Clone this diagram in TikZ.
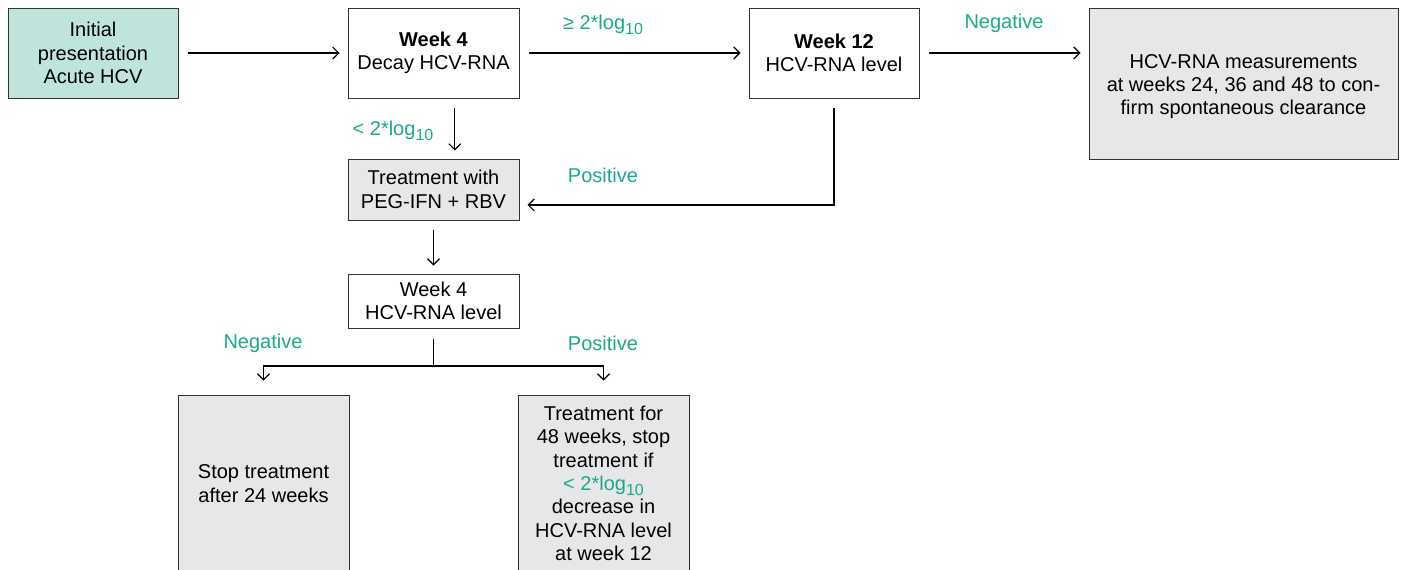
\documentclass[tikz,border=0pt]{standalone}
\usepackage{fontspec}
\setmainfont{Liberation Sans}
\usetikzlibrary{arrows.meta}
\definecolor{tealtxt}{HTML}{1AA98C}
\definecolor{tealfill}{HTML}{BFE4DB}
\definecolor{grayfill}{HTML}{E6E7E8}
\definecolor{edgec}{HTML}{333333}
\newcommand\lowten{\raisebox{-0.45ex}{\fontsize{12}{12}\selectfont 10}}
\begin{document}
\begin{tikzpicture}[x=0.75pt,y=-0.75pt,
  box/.style={draw=edgec, line width=0.75pt, align=center, inner sep=0pt, font=\fontsize{15}{17.5}\selectfont, text=black},
  conn/.style={draw=black, line width=0.85pt, -{Straight Barb[length=4.5pt,width=9pt]}, shorten <=6.75pt, shorten >=6pt},
  plainline/.style={draw=black, line width=0.85pt},
  lbl/.style={text=tealtxt, font=\fontsize{15}{17.5}\selectfont, inner sep=0pt}]
\useasboundingbox (0,0) rectangle (1407,569);

\node[box, fill=tealfill, minimum width=127.5pt, minimum height=67.5pt] (a) at (93,53) {Initial\\presentation\\Acute HCV};
\node[box, fill=white, minimum width=128.25pt, minimum height=67.5pt] (b) at (433.5,53) {\textbf{Week 4}\\Decay HCV-RNA};
\node[box, fill=white, minimum width=127.5pt, minimum height=67.5pt] (c) at (834,53) {\textbf{Week 12}\\HCV-RNA level};
\node[box, fill=grayfill, minimum width=231.75pt, minimum height=113.25pt] (d) at (1243.5,83.5) {\rule{0pt}{15pt}HCV-RNA measurements\\at weeks 24, 36 and 48 to con-\\firm spontaneous clearance};
\node[box, fill=grayfill, minimum width=128.25pt, minimum height=45.75pt] (e) at (433.5,189.5) {Treatment with\\PEG-IFN + RBV};
\node[box, fill=white, minimum width=128.25pt, minimum height=40.5pt] (f) at (433.5,301) {Week 4\\HCV-RNA level};
\node[box, fill=grayfill, minimum width=128.25pt, minimum height=132.75pt] (g) at (263.5,483.5) {Stop treatment\\after 24 weeks};
\node[box, fill=grayfill, minimum width=128.25pt, minimum height=132.75pt] (h) at (603.5,483.5) {Treatment for\\48 weeks, stop\\treatment if\\\textcolor{tealtxt}{< 2*log\lowten}\\decrease in\\HCV-RNA level\\at week 12};

\node[lbl] (l1) at (603,25) {≥ 2*log\lowten};
\node[lbl] (l2) at (1004,23) {Negative};
\node[lbl] (l3) at (393,131) {< 2*log\lowten};
\node[lbl] (l4) at (603,175) {Positive};
\node[lbl] (l5) at (263,343) {Negative};
\node[lbl] (l6) at (603,343) {Positive};

\draw[conn] (a) -- (b);
\draw[conn] (b) -- (c);
\draw[conn] (c) -- (d.west |- c.east);
\draw[conn] ([xshift=16pt]b.south) -- ([xshift=16pt]e.north);
\draw[conn] (c.south) |- ([yshift=-11.6pt]e.east);
\draw[conn] (e) -- (f);
\coordinate (split) at (433.5,366);
\draw[plainline, shorten <=7.5pt] (f.south) -- (split);
\draw[conn, shorten <=0pt, shorten >=10.5pt] (split) -| (g.north);
\draw[conn, shorten <=0pt, shorten >=10.5pt] (split) -| (h.north);
\end{tikzpicture}
\end{document}
